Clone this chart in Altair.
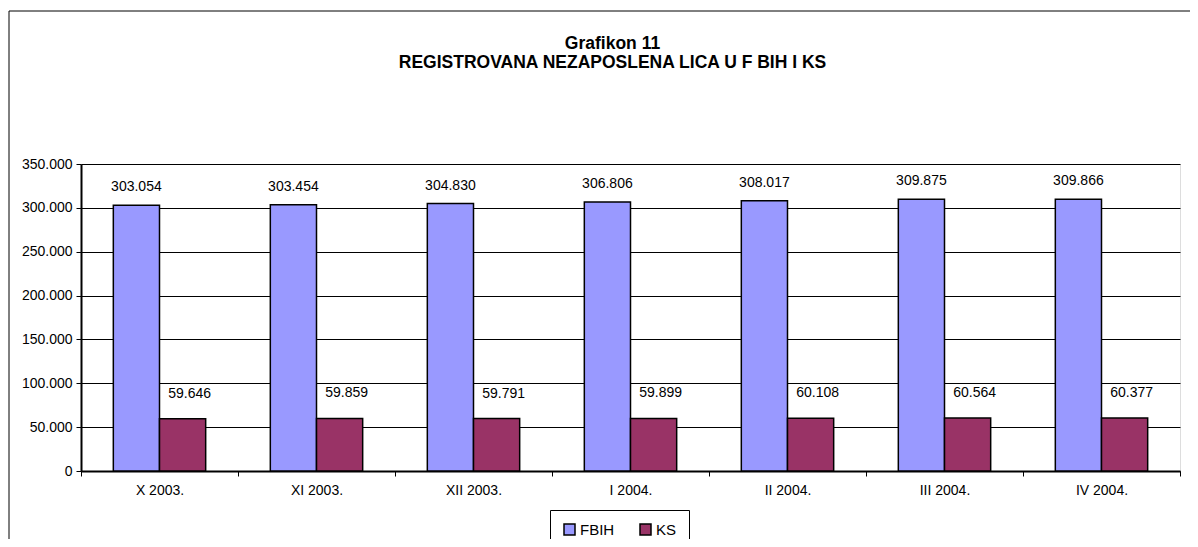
import altair as alt
import pandas as pd

months = ["X 2003.", "XI 2003.", "XII 2003.", "I 2004.", "II 2004.", "III 2004.", "IV 2004."]
fbih = [303054, 303454, 304830, 306806, 308017, 309875, 309866]
ks = [59646, 59859, 59791, 59899, 60108, 60564, 60377]
series = ["FBIH", "KS"]
colors = ["#9999FF", "#993366"]
y_ticks = [0, 50000, 100000, 150000, 200000, 250000, 300000, 350000]

rows = []
for m, a, b in zip(months, fbih, ks):
    rows.append({"month": m, "series": "FBIH", "value": a})
    rows.append({"month": m, "series": "KS", "value": b})
df = pd.DataFrame(rows)

FONT = "Liberation Sans"
W, H = 1099, 307
FS = 14

x_enc = alt.X("month:N", sort=months, title=None,
              scale=alt.Scale(paddingInner=0, paddingOuter=0),
              axis=alt.Axis(tickBand="extent", labelAngle=0, labelFontSize=FS,
                            labelFont=FONT, labelColor="black", labelPadding=7,
                            tickColor="black", tickSize=5, domainColor="black",
                            domainWidth=2, grid=False))
y_enc = alt.Y("value:Q", title=None,
              scale=alt.Scale(domain=[0, 350000], nice=False),
              axis=alt.Axis(values=y_ticks, labelFontSize=FS, labelFont=FONT,
                            labelColor="black", labelPadding=4, tickColor="black",
                            tickSize=5, domainColor="black", domainWidth=2,
                            gridColor="black", gridWidth=1,
                            labelExpr="replace(format(datum.value, ','), ',', '.')"))
xo = alt.XOffset("series:N", sort=series,
                 scale=alt.Scale(paddingInner=0, paddingOuter=0.7))

base = alt.Chart(df)

bars = base.mark_bar(stroke="black", strokeWidth=1.5).encode(
    x=x_enc, y=y_enc, xOffset=xo,
    color=alt.Color("series:N", sort=series,
                    scale=alt.Scale(domain=series, range=colors),
                    legend=alt.Legend(title=None, orient="none", legendX=469, legendY=346,
                                      direction="horizontal", strokeColor="black",
                                      padding=12, symbolType="square", symbolSize=121,
                                      symbolStrokeColor="black", symbolStrokeWidth=1.5,
                                      labelFontSize=15, labelFont=FONT, labelColor="black",
                                      labelOffset=3, columnPadding=22)),
)

lab_expr = "replace(format(datum.value, ','), ',', '.')"

text_f = base.transform_filter("datum.series == 'FBIH'").transform_calculate(
    lab=lab_expr).mark_text(dy=-18, baseline="middle", fontSize=FS, font=FONT,
                            color="black").encode(
    x=alt.X("month:N", sort=months), y="value:Q", xOffset=xo, text="lab:N")

text_k = base.transform_filter("datum.series == 'KS'").transform_calculate(
    lab=lab_expr).mark_text(dy=-25, dx=7, baseline="middle", fontSize=FS, font=FONT,
                            color="black").encode(
    x=alt.X("month:N", sort=months), y="value:Q", xOffset=xo, text="lab:N")

frame_df = pd.DataFrame({"k": [0]})
frame_top = alt.Chart(frame_df).mark_rule(color="black", strokeWidth=1, clip=False).encode(
    x=alt.value(-72), x2=alt.value(1200), y=alt.value(-153), y2=alt.value(-153))
frame_left = alt.Chart(frame_df).mark_rule(color="black", strokeWidth=1, clip=False).encode(
    x=alt.value(-72), x2=alt.value(-72), y=alt.value(-153), y2=alt.value(420))

chart = alt.layer(bars, text_f, text_k, frame_top, frame_left).properties(
    width=W, height=H,
    title=alt.TitleParams(["Grafikon 11", "REGISTROVANA NEZAPOSLENA LICA U F BIH I KS"],
                          fontSize=17.5, fontWeight="bold", font=FONT, color="black",
                          anchor="middle", dx=-18, offset=-61, lineHeight=19),
    autosize=alt.AutoSizeParams(type="none"),
    padding={"left": 73, "top": 156, "right": 10, "bottom": 68},
).configure_view(stroke="#808080", strokeWidth=1.5).configure(background="white")

chart.save("out.html", embed_options={"renderer": "svg", "actions": False})
